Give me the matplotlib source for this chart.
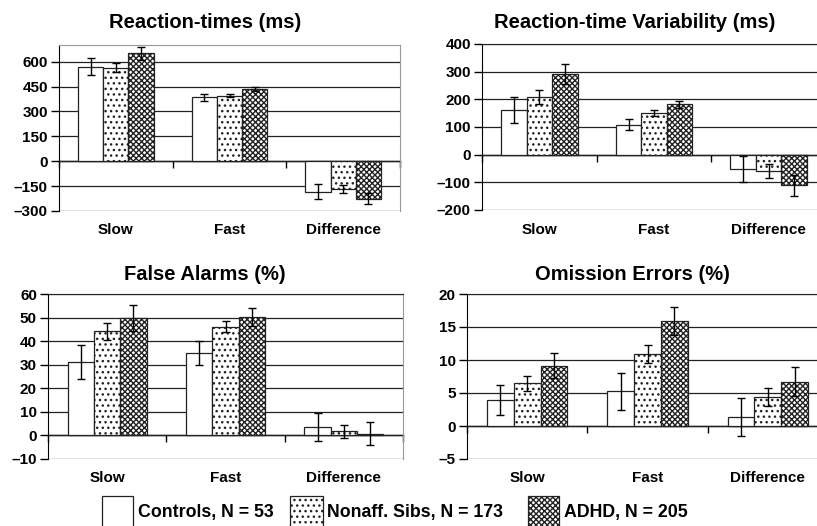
import matplotlib
matplotlib.use("Agg")
import matplotlib.pyplot as plt
import numpy as np
from matplotlib.patches import Rectangle

plt.rcParams["font.family"] = ["Liberation Sans", "DejaVu Sans"]
plt.rcParams["font.weight"] = "bold"
plt.rcParams["hatch.linewidth"] = 1.0

W, H = 817, 526

CATEGORIES = ["Slow", "Fast", "Difference"]
GROUPS = ["Controls, N = 53", "Nonaff. Sibs, N = 173", "ADHD, N = 205"]
HATCHES = ["", "...", "xxxxxx"]

# rows: controls, siblings, adhd ; columns: slow, fast, difference
rt_means = [[570, 385, -183], [564, 393, -167], [650, 433, -225]]
rt_errs = [[50, 20, 47], [25, 9, 23], [40, 13, 34]]

rtv_means = [[162, 109, -53], [208, 149, -58], [291, 182, -111]]
rtv_errs = [[46, 19, 47], [25, 11, 25], [37, 13, 39]]

fa_means = [[31.2, 34.9, 3.7], [44.2, 46.2, 1.8], [49.8, 50.3, 0.8]]
fa_errs = [[7.2, 5.1, 6.0], [3.7, 2.3, 2.8], [5.4, 3.9, 4.7]]

om_means = [[3.9, 5.3, 1.4], [6.5, 10.9, 4.4], [9.1, 15.9, 6.7]]
om_errs = [[2.3, 2.8, 2.85], [1.15, 1.4, 1.35], [1.9, 2.15, 2.2]]

rt_ticks = np.arange(-300, 601, 150)
rtv_ticks = np.arange(-200, 401, 100)
fa_ticks = np.arange(-10, 61, 10)
om_ticks = np.arange(-5, 21, 5)

BAR_W = 1 / 4.5


def px_rect(left, right, top, bottom):
    return [left / W, 1 - bottom / H, (right - left) / W, (bottom - top) / H]


def draw_panel(fig, rect, means, errs, ticks, ylim, title, title_xy, top_dark):
    ax = fig.add_axes(rect)
    x = np.arange(len(CATEGORIES))
    for i in range(3):
        ax.bar(x + (i - 1) * BAR_W, means[i], BAR_W, color="white",
               edgecolor="#222222", linewidth=0.9, hatch=HATCHES[i], zorder=2)
        ax.errorbar(x + (i - 1) * BAR_W, means[i], yerr=errs[i], fmt="none",
                    ecolor="black", elinewidth=1.0, capsize=3, capthick=1.0, zorder=3)

    ax.set_xlim(-0.5, 2.5)
    ax.set_ylim(*ylim)
    ax.set_yticks(ticks)
    ax.set_yticklabels([f"{t:g}".replace("-", "\u2013") for t in ticks])
    ax.tick_params(axis="y", direction="out", length=6, width=1, pad=2, labelsize=11)
    ax.set_xticks(x, CATEGORIES)
    ax.tick_params(axis="x", length=0, pad=9, labelsize=11)

    ax.set_axisbelow(True)
    ax.yaxis.grid(True, color="#222222", linewidth=0.9)

    ax.spines["bottom"].set_visible(False)
    ax.spines["left"].set_color("black")
    ax.spines["right"].set_color("#999999")
    ax.spines["top"].set_color("#222222" if top_dark else "#999999")

    # zero line with category separators
    zero_frac = (0 - ylim[0]) / (ylim[1] - ylim[0])
    sec = ax.secondary_xaxis(zero_frac)
    sec.set_xticks([-0.5, 0.5, 1.5, 2.5])
    sec.tick_params(direction="out", length=5, width=1, labelbottom=False,
                    labeltop=False)
    sec.spines["bottom"].set_color("black")
    sec.spines["bottom"].set_linewidth(1.0)

    fig.text(title_xy[0] / W, 1 - title_xy[1] / H, title, ha="center",
             va="center", fontsize=14.5, fontweight="bold")
    return ax


fig = plt.figure(figsize=(W / 100, H / 100), dpi=100)

draw_panel(fig, px_rect(59, 400, 45, 211), rt_means, rt_errs, rt_ticks,
           (-300, 700), "Reaction-times (ms)", (205, 23), False)
draw_panel(fig, px_rect(482, 826, 44, 210), rtv_means, rtv_errs, rtv_ticks,
           (-200, 400), "Reaction-time Variability (ms)", (635, 22), True)
draw_panel(fig, px_rect(48, 403, 294, 459), fa_means, fa_errs, fa_ticks,
           (-10, 60), "False Alarms (%)", (205, 275), True)
draw_panel(fig, px_rect(467, 828, 294, 459), om_means, om_errs, om_ticks,
           (-5, 20), "Omission Errors (%)", (632, 275), True)

# legend along the bottom edge
legend_boxes = [(102, 133), (290, 323), (528, 559)]
legend_text_x = [138, 327, 564]
for (x0, x1), tx, label, hatch in zip(legend_boxes, legend_text_x, GROUPS, HATCHES):
    fig.add_artist(Rectangle((x0 / W, 1 - 527 / H), (x1 - x0) / W, 31 / H,
                             transform=fig.transFigure, facecolor="white",
                             edgecolor="#222222", linewidth=0.9, hatch=hatch))
    fig.text(tx / W, 1 - 513 / H, label, ha="left", va="center",
             fontsize=12.8, fontweight="bold")

fig.savefig("out.png", dpi=100)
